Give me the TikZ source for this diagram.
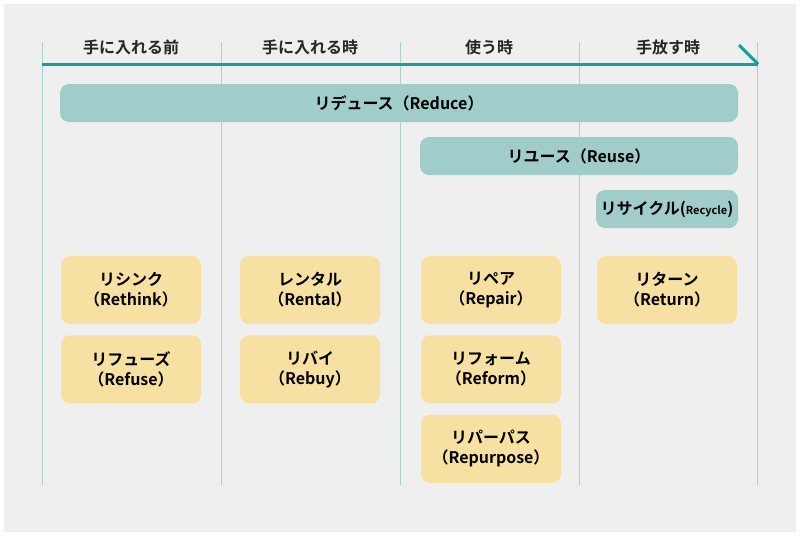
\documentclass[tikz,border=0pt]{standalone}
\usepackage{fontspec}
\newfontfamily\jpfont{Noto Sans CJK JP}[BoldFont={Noto Sans CJK JP Bold}]
\usetikzlibrary{positioning}
\definecolor{bggray}{HTML}{EFEFEF}
\definecolor{teal}{HTML}{17A09A}
\definecolor{lineteal}{HTML}{A8D3D0}
\definecolor{barteal}{HTML}{A0CDCA}
\definecolor{cream}{HTML}{F6E1A3}

\begin{document}
\begin{tikzpicture}[x=1pt,y=-1pt,font=\jpfont\bfseries\fontsize{16}{20}\selectfont]
\tikzstyle{phase}=[text=black!85]
\tikzstyle{bar}=[fill=barteal,rounded corners=9pt,minimum height=38pt,inner sep=0pt]
\tikzstyle{act}=[fill=cream,rounded corners=9pt,minimum width=140pt,minimum height=68pt,
  align=center,inner sep=0pt]

\useasboundingbox (0,0) rectangle (800,536);
\fill[white] (0,0) rectangle (800,536);
\fill[bggray] (4,4) rectangle (796,532);

%% Columns
\foreach \x [count=\i] in {42,221,400,579,757}
  \coordinate (col\i) at (\x,42);
\foreach \i in {1,...,5}
  \draw[lineteal,line width=1pt] (col\i) -- ++(0,443);

%% Time axis
\coordinate (axisstart) at (42,64);
\coordinate (axisend) at (758,64);
\coordinate (tip) at (739,45);
\draw[teal,line width=3pt] (axisstart) -- (axisend);
\draw[teal,line width=3pt] (tip) -- (axisend);

\node[phase] (before) at (131,47) {手に入れる前};
\node[phase] (buy) at (310,47) {手に入れる時};
\node[phase] (use) at (489,47) {使う時};
\node[phase] (release) at (668,47) {手放す時};

%% Bars
\node[bar,minimum width=678pt] (reduce) at (399,103) {リデュース（Reduce）};
\node[bar,minimum width=318pt] (reuse) at (579,156) {リユース（Reuse）};
\node[bar,minimum width=142pt] (recycle) at (667,209)
  {リサイクル({\fontsize{11}{13}\selectfont Recycle})};

%% Activities
\node[act] (rethink) at (131,290) {リシンク\\（Rethink）};
\node[act,below=11pt of rethink] (refuse) {リフューズ\\（Refuse）};
\node[act] (rental) at (310,290) {レンタル\\（Rental）};
\node[act,below=11pt of rental] (rebuy) {リバイ\\（Rebuy）};
\node[act] (repair) at (491,290) {リペア\\（Repair）};
\node[act,below=11pt of repair] (reform) {リフォーム\\（Reform）};
\node[act,below=11pt of reform] (repurpose) {リパーパス\\（Repurpose）};
\node[act] (return) at (667,290) {リターン\\（Return）};
\end{tikzpicture}
\end{document}
